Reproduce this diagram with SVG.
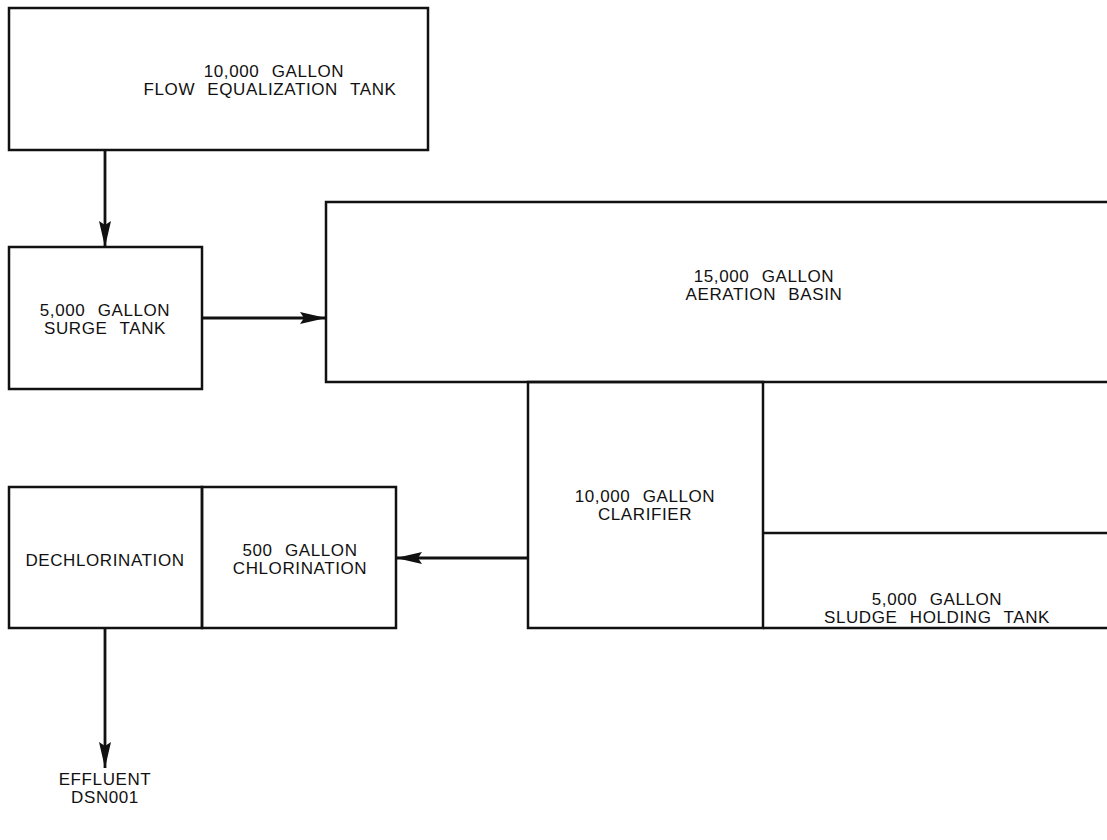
<svg xmlns="http://www.w3.org/2000/svg" width="1107" height="840" viewBox="0 0 1107 840">
<style>
.box{fill:none;stroke:#111;stroke-width:2.5}
.lbl{font-family:"Liberation Sans",Arial,sans-serif;font-size:17px;fill:#111;text-anchor:middle;letter-spacing:0.6px;word-spacing:7px}
.conn{stroke:#111;stroke-width:2.8;fill:none}
</style>
<defs>
<marker id="ah" markerWidth="26" markerHeight="12" refX="26" refY="6" orient="auto" markerUnits="userSpaceOnUse">
<path d="M0,0 L26,6 L0,12 L4,6 Z" fill="#111"/>
</marker>
</defs>
<rect width="1107" height="840" fill="#fff"/>
<g id="flow-eq-tank">
<rect class="box" x="9" y="8" width="419" height="142"/>
<text class="lbl" x="274" y="77">10,000 GALLON</text>
<text class="lbl" x="270" y="95">FLOW EQUALIZATION TANK</text>
</g>
<g id="surge-tank">
<rect class="box" x="9" y="247" width="193" height="142"/>
<text class="lbl" x="105" y="316">5,000 GALLON</text>
<text class="lbl" x="105" y="334">SURGE TANK</text>
</g>
<g id="aeration-basin">
<path class="box" d="M1108,202 H326 V382 H1108"/>
<text class="lbl" x="764" y="282">15,000 GALLON</text>
<text class="lbl" x="764" y="300">AERATION BASIN</text>
</g>
<g id="clarifier">
<rect class="box" x="528" y="382" width="235" height="246"/>
<text class="lbl" x="645" y="502">10,000 GALLON</text>
<text class="lbl" x="645" y="520">CLARIFIER</text>
</g>
<g id="sludge-tank">
<path class="box" d="M763,533 H1108 M763,628 H1108"/>
<text class="lbl" x="937" y="605">5,000 GALLON</text>
<text class="lbl" x="937" y="623">SLUDGE HOLDING TANK</text>
</g>
<g id="dechlorination">
<rect class="box" x="9" y="487" width="193" height="141"/>
<text class="lbl" x="105" y="566">DECHLORINATION</text>
</g>
<g id="chlorination">
<rect class="box" x="202" y="487" width="194" height="141"/>
<text class="lbl" x="300" y="556">500 GALLON</text>
<text class="lbl" x="300" y="574">CHLORINATION</text>
</g>
<g id="effluent">
<text class="lbl" x="105" y="785">EFFLUENT</text>
<text class="lbl" x="105" y="803">DSN001</text>
</g>
<g id="connectors">
<line class="conn" x1="105" y1="150" x2="105" y2="247" marker-end="url(#ah)"/>
<line class="conn" x1="202" y1="318" x2="326" y2="318" marker-end="url(#ah)"/>
<line class="conn" x1="528" y1="558" x2="396" y2="558" marker-end="url(#ah)"/>
<line class="conn" x1="105" y1="628" x2="105" y2="768" marker-end="url(#ah)"/>
</g>
</svg>
